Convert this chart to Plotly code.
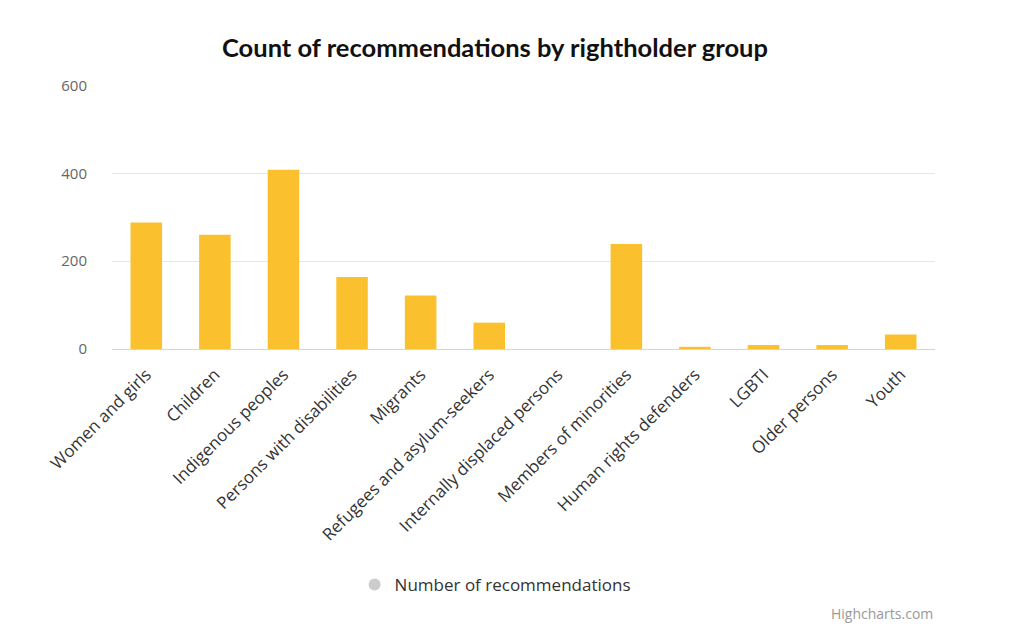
import plotly.graph_objects as go

categories = ["Women and girls", "Children", "Indigenous peoples", "Persons with disabilities",
              "Migrants", "Refugees and asylum-seekers", "Internally displaced persons",
              "Members of minorities", "Human rights defenders", "LGBTI", "Older persons", "Youth"]
values = [288, 260, 408, 164, 122, 60, 0, 239, 5, 9, 9, 33]
yticks = [0, 200, 400, 600]

fig = go.Figure()
fig.add_trace(go.Bar(x=categories, y=values, marker_color="#fbc02d", marker_line_width=0,
                     showlegend=False, name="Number of recommendations"))
fig.add_trace(go.Scatter(x=[categories[0]], y=[None], mode="markers", name="Number of recommendations",
                         marker=dict(color="#cccccc", size=18, symbol="circle"), showlegend=True))

# page body has an 8px margin, so the figure is drawn at (8, 8)
W, H = 1016, 620
fig.update_layout(
    width=W, height=H,
    margin=dict(l=104, r=89, t=77, b=279),
    plot_bgcolor="white", paper_bgcolor="white",
    bargap=0.54,
    title=dict(text="<b>Count of recommendations by rightholder group</b>",
               x=(495-8)/W, xanchor="center", y=1-(48-8)/H, yanchor="middle", xref="container", yref="container",
               font=dict(family="Lato", size=25.5, color="#111111")),
    font=dict(family="Open Sans", color="#333333"),
    xaxis=dict(tickangle=-45, tickfont=dict(size=17, color="#333333"), showline=True,
               linecolor="#ccd6eb", linewidth=1, ticks="", showgrid=False, automargin=False,
               range=[-0.5, len(categories) - 0.5], ticklabelstandoff=8),
    yaxis=dict(range=[0, 601], tickvals=yticks, tickfont=dict(size=15, color="#666666"),
               showgrid=True, gridcolor="#e6e6e6", zeroline=False, ticks="", ticklabelstandoff=24,
               automargin=False),
    legend=dict(orientation="h", x=0.4655, xanchor="center", y=-0.894, yanchor="middle",
                font=dict(size=17, color="#333333"), itemsizing="constant"),
    annotations=[dict(text="Highcharts.com", x=1.0, xref="paper", xanchor="right",
                      y=(349-613)/264, yref="paper", yanchor="middle", showarrow=False,
                      font=dict(size=14, color="#999999"))],
)
fig.write_html("out.html")
